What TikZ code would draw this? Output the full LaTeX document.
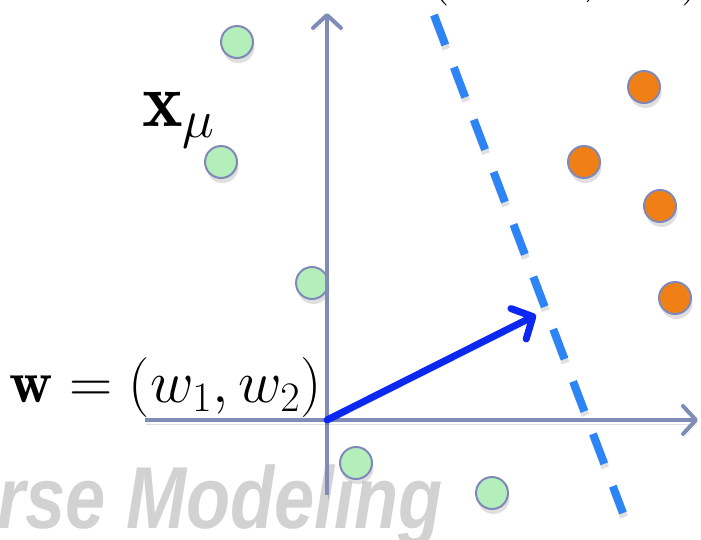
\RequirePackage{fix-cm}
\documentclass[tikz,border=0pt]{standalone}
\usepackage{fontspec}
\newfontfamily\wmfont{Liberation Sans}
\usetikzlibrary{arrows.meta,shadows}
\definecolor{axiscol}{RGB}{128,140,184}
\definecolor{ptborder}{RGB}{128,136,184}
\definecolor{greenpt}{RGB}{180,238,186}
\definecolor{orangept}{RGB}{240,128,22}
\definecolor{vecblue}{RGB}{12,40,240}
\definecolor{dashblue}{RGB}{45,132,246}
\definecolor{wmgray}{RGB}{210,210,210}
\tikzset{
  pt/.style={circle, draw=ptborder, line width=2pt, minimum size=32pt, inner sep=0pt,
    drop shadow={shadow xshift=1.5pt, shadow yshift=-5pt, opacity=0.25}},
  greenp/.style={pt, fill=greenpt},
  orangep/.style={pt, fill=orangept},
  axisline/.style={draw=axiscol, line width=4pt,
    -{Straight Barb[length=13pt,width=28pt,round]},
    preaction={draw=black, opacity=0.12, transform canvas={xshift=1pt,yshift=-4pt}}},
  vecline/.style={draw=vecblue, line width=7pt, line cap=round,
    -{Straight Barb[length=16pt,width=34pt,round]},
    preaction={draw=black, opacity=0.12, transform canvas={xshift=1pt,yshift=-4pt}}},
  sepline/.style={draw=dashblue, line width=8pt, dash pattern=on 32pt off 24pt},
  lbl/.style={inner sep=0pt, anchor=base west}
}
\begin{document}
\begin{tikzpicture}[x=1pt,y=-1pt]
\useasboundingbox (0,0) rectangle (701,539);
\clip (0,0) rectangle (701,539);
% watermark
\node[inner sep=0pt, anchor=base east, xscale=0.82, text=wmgray] (wm) at (443,528)
  {\wmfont\bfseries\itshape\fontsize{88}{90}\selectfont Inverse Modeling};
% cut-off label at the top
\node[lbl] (toplbl) at (429,-9) {\fontsize{58}{64}\selectfont $(\hspace{132pt}{,}\hspace{84pt})$};
% points
\node[greenp] (g1) at (237,42) {};
\node[greenp] (g2) at (221,162) {};
\node[greenp] (g3) at (312,283) {};
\node[greenp] (g4) at (356,463) {};
\node[greenp] (g5) at (492,493) {};
\node[orangep] (o1) at (644,87) {};
\node[orangep] (o2) at (584,162) {};
\node[orangep] (o3) at (660,206) {};
\node[orangep] (o4) at (675,298) {};
% axes
\coordinate (O) at (327,420);
\coordinate (ybot) at (327,495);
\coordinate (ytop) at (327,13);
\coordinate (xleft) at (145,420);
\coordinate (xright) at (698,420);
\draw[axisline] (ybot) -- (ytop);
\draw[axisline] (xleft) -- (xright);
% separating line (shadow, then line)
\coordinate (s1) at (434,15);
\coordinate (s2) at (623,513);
\draw[sepline, draw=black, opacity=0.12, transform canvas={xshift=1pt,yshift=-4pt}] (s1) -- (s2);
\draw[sepline] (s1) -- (s2);
% weight vector
\coordinate (wtip) at (536,315);
\draw[vecline] (O) -- (wtip);
% labels
\node[lbl] (xlbl) at (142,126) {\fontsize{77}{84}\selectfont $\mathbf{x}_\mu$};
\node[lbl] (wlbl) at (9,402) {\fontsize{60}{66}\selectfont $\mathbf{w}=(w_1,w_2)$};
\end{tikzpicture}
\end{document}
